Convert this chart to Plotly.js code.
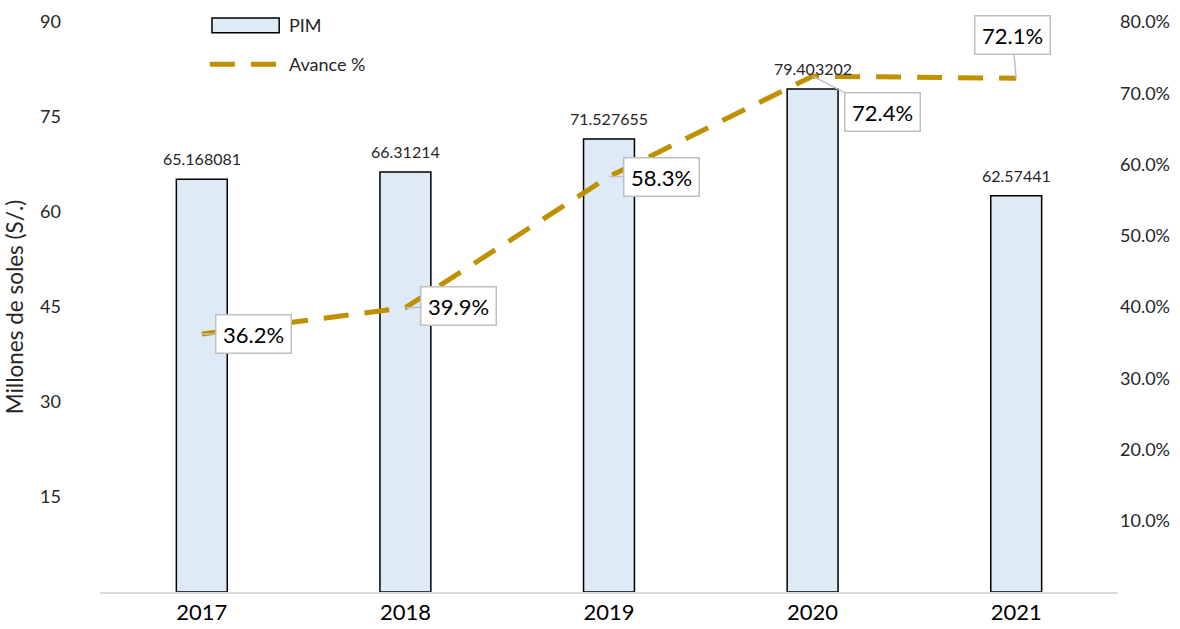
<!DOCTYPE html>
<html><head><meta charset="utf-8">
<script src="https://cdn.plot.ly/plotly-3.0.1.min.js"></script>
<style>html,body{margin:0;padding:0;background:#fff}#chart{width:1180px;height:629px}</style>
</head><body><div id="chart"></div>
<script>
const years = ["2017","2018","2019","2020","2021"];
const pim = [65.168081, 66.31214, 71.527655, 79.403202, 62.57441];
const avance = [0.362, 0.399, 0.583, 0.724, 0.721];
const leftTicks = [15,30,45,60,75,90];
const rightTicks = [0.1,0.2,0.3,0.4,0.5,0.6,0.7,0.8];

const FONT = "Lato, 'Open Sans', sans-serif";
const GOLD = "#BF9000";

const traces = [
  {type:"bar", x:years, y:pim, name:"PIM", width:0.25,
   marker:{color:"#DEEAF6", line:{color:"#000", width:1.5}}, showlegend:false, hoverinfo:"skip"},
  {type:"scatter", mode:"lines", x:years, y:avance, yaxis:"y2", name:"Avance %",
   line:{color:GOLD, width:5, dash:"25px,16px"}, showlegend:false, hoverinfo:"skip"}
];

const offsets = [[52,0],[53,-2],[52,0],[70,36],[-4,-43]];
const annotations = [];
pim.forEach((v,i)=>{
  annotations.push({x:i, y:v, xref:"x", yref:"y", text:String(v), showarrow:false,
    yanchor:"bottom", yshift:9, font:{family:FONT, size:16, color:"#262626"}});
});
avance.forEach((v,i)=>{
  annotations.push({x:i, y:v, xref:"x", yref:"y2", text:(v*100).toFixed(1)+"%",
    showarrow:true, arrowhead:0, arrowcolor:"#BFBFBF", arrowwidth:1.5,
    ax:offsets[i][0], ay:offsets[i][1], bgcolor:"#fff", bordercolor:"#BFBFBF", borderwidth:1.5,
    borderpad:5, width:64, height:27, font:{family:FONT, size:22, color:"#000"}});
});
// legend texts
annotations.push({xref:"paper", yref:"paper", x:0.184, y:0.994, xanchor:"left", yanchor:"middle",
  text:"PIM", showarrow:false, font:{family:FONT, size:18, color:"#262626"}});
annotations.push({xref:"paper", yref:"paper", x:0.184, y:0.926, xanchor:"left", yanchor:"middle",
  text:"Avance %", showarrow:false, font:{family:FONT, size:18, color:"#262626"}});

const shapes = [
  {type:"rect", xref:"paper", yref:"paper", x0:0.110, x1:0.176, y0:0.981, y1:1.007,
   fillcolor:"#DEEAF6", line:{color:"#000", width:1.5}},
  {type:"line", xref:"paper", yref:"paper", x0:0.108, x1:0.177, y0:0.926, y1:0.926,
   line:{color:GOLD, width:5, dash:"25px,16px"}}
];

const layout = {
  width:1180, height:629,
  margin:{l:100, r:62, t:22, b:37},
  paper_bgcolor:"#fff", plot_bgcolor:"#fff",
  font:{family:FONT, color:"#262626"},
  showlegend:false,
  xaxis:{type:"category", range:[-0.5,4.5], autorange:false, showgrid:false, zeroline:false, showline:true, linecolor:"#D9D9D9", linewidth:1.5,
    ticks:"", tickfont:{family:FONT, size:22, color:"#000"}, fixedrange:true},
  yaxis:{range:[0,90], autorange:false, tickvals:leftTicks, showgrid:false, zeroline:false, showline:false,
    ticks:"", ticklabelstandoff:38, tickfont:{family:FONT, size:18, color:"#262626"},
    title:{text:"Millones de soles (S/.)", standoff:10, font:{family:FONT, size:22.5, color:"#262626"}}},
  yaxis2:{range:[0,0.8], autorange:false, overlaying:"y", side:"right", tickvals:rightTicks, tickformat:".1%",
    showgrid:false, zeroline:false, showline:false, ticks:"", ticklabelstandoff:1,
    tickfont:{family:FONT, size:18, color:"#262626"}},
  annotations, shapes
};

Plotly.newPlot("chart", traces, layout, {staticPlot:true});
</script></body></html>
